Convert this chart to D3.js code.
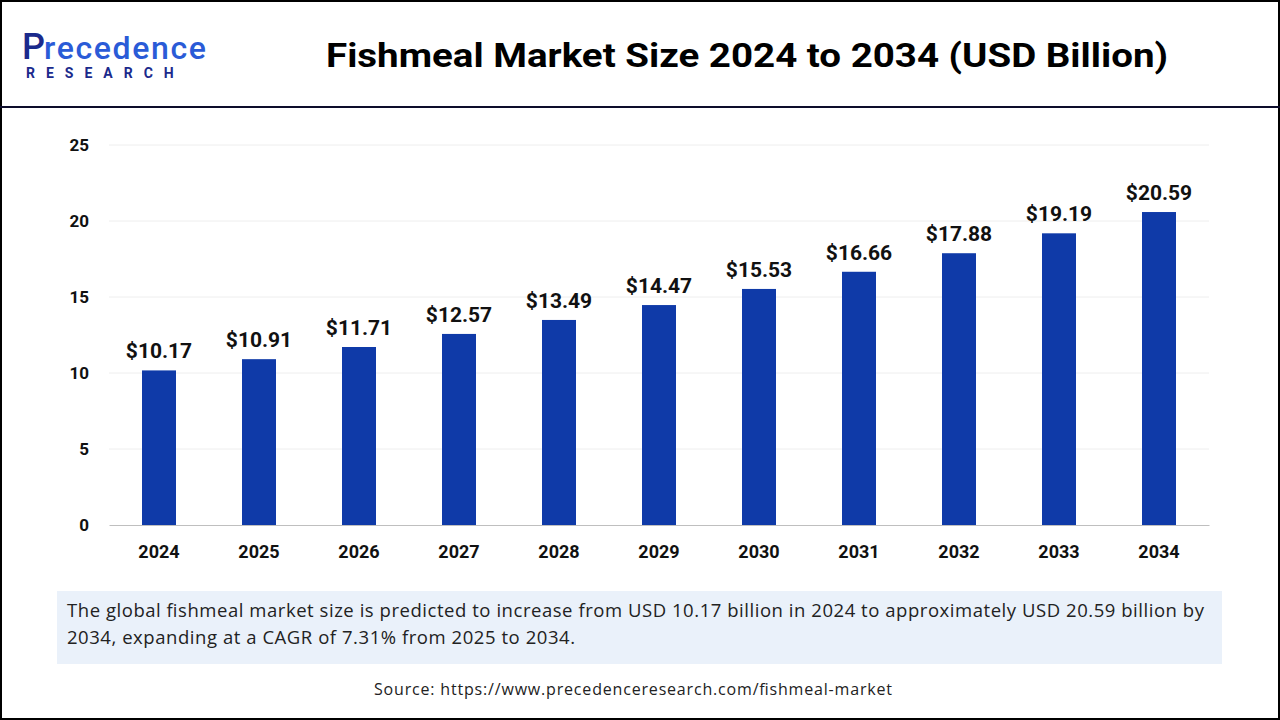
<!DOCTYPE html>
<html><head><meta charset="utf-8">
<script src="https://cdn.jsdelivr.net/npm/d3@7"></script>
<style>body{margin:0;background:#fff;font-family:Roboto,"Open Sans",sans-serif}</style>
</head><body><div id="chart"></div>
<script>
const years = ["2024","2025","2026","2027","2028","2029","2030","2031","2032","2033","2034"];
const values = [10.17,10.91,11.71,12.57,13.49,14.47,15.53,16.66,17.88,19.19,20.59];
const yTicks = [0,5,10,15,20,25];

const W = 1280, H = 720;
const svg = d3.select("#chart").append("svg").attr("width", W).attr("height", H);

// frame + header
svg.append("rect").attr("x",1).attr("y",1).attr("width",W-2).attr("height",H-2)
    .attr("fill","none").attr("stroke","#000").attr("stroke-width",2);
svg.append("line").attr("x1",0).attr("x2",W).attr("y1",107).attr("y2",107)
    .attr("stroke","#0d0d2b").attr("stroke-width",2);

// logo
const logo = svg.append("g");
logo.append("text").attr("x",22).attr("y",59).attr("font-size",36).attr("font-weight",500)
    .attr("fill","#1b2a8c").text("P");
logo.append("text").attr("x",44).attr("y",59).attr("font-size",32).attr("font-weight",500)
    .attr("fill","#2a5bd7").attr("textLength",162).text("recedence");
logo.append("text").attr("x",26).attr("y",78).attr("font-size",14).attr("font-weight",700)
    .attr("fill","#1b2a8c").attr("letter-spacing",11).text("RESEARCH");

svg.append("text").attr("x",747).attr("y",67).attr("text-anchor","middle")
    .attr("font-size",34).attr("font-weight",700).attr("fill","#000")
    .attr("textLength",842).attr("lengthAdjust","spacingAndGlyphs")
    .text("Fishmeal Market Size 2024 to 2034 (USD Billion)");

const x = d3.scaleBand().domain(years).range([109,1209]).paddingInner(0.66).paddingOuter(0.33);
const y = d3.scaleLinear().domain([0,25]).range([525,145]);

const grid = svg.append("g");
grid.selectAll("line").data(yTicks.slice(1)).enter().append("line")
    .attr("x1",109).attr("x2",1209).attr("y1",d=>y(d)).attr("y2",d=>y(d))
    .attr("stroke","#eeeeee");

const yAxis = svg.append("g").attr("transform","translate(109,0)")
    .call(d3.axisLeft(y).tickValues(yTicks).tickSize(0).tickPadding(20));
yAxis.select(".domain").remove();
yAxis.selectAll("text").attr("font-size",17).attr("font-weight",700).attr("fill","#111")
    .attr("font-family","Roboto,sans-serif");

const xAxis = svg.append("g").attr("transform","translate(0,525)")
    .call(d3.axisBottom(x).tickSize(0).tickPadding(20));
xAxis.select(".domain").attr("stroke","#bfbfbf");
xAxis.selectAll("text").attr("font-size",18).attr("font-weight",700).attr("fill","#111")
    .attr("font-family","Roboto,sans-serif");

svg.selectAll(".bar").data(values).enter().append("rect")
    .attr("x",(d,i)=>x(years[i])).attr("width",x.bandwidth())
    .attr("y",d=>y(d)).attr("height",d=>y(0)-y(d)).attr("fill","#0f3aa8");

svg.selectAll(".lbl").data(values).enter().append("text")
    .attr("x",(d,i)=>x(years[i])+x.bandwidth()/2).attr("y",d=>y(d)-12)
    .attr("text-anchor","middle").attr("font-size",21).attr("font-weight",700).attr("fill","#111")
    .text(d=>"$"+d.toFixed(2));

// caption
svg.append("rect").attr("x",57).attr("y",591).attr("width",1165).attr("height",73).attr("fill","#eaf1fa");
const cap = svg.append("text").attr("font-size",18.5).attr("fill","#222").attr("font-family","'Open Sans',sans-serif");
cap.append("tspan").attr("x",67).attr("y",617).attr("textLength",1137)
    .text("The global fishmeal market size is predicted to increase from USD 10.17 billion in 2024 to approximately USD 20.59 billion by");
cap.append("tspan").attr("x",67).attr("y",644).attr("textLength",508)
    .text("2034, expanding at a CAGR of 7.31% from 2025 to 2034.");

svg.append("text").attr("x",633).attr("y",695).attr("text-anchor","middle")
    .attr("font-size",16).attr("fill","#222").attr("font-family","'Open Sans',sans-serif")
    .attr("textLength",518)
    .text("Source: https://www.precedenceresearch.com/fishmeal-market");
</script></body></html>
